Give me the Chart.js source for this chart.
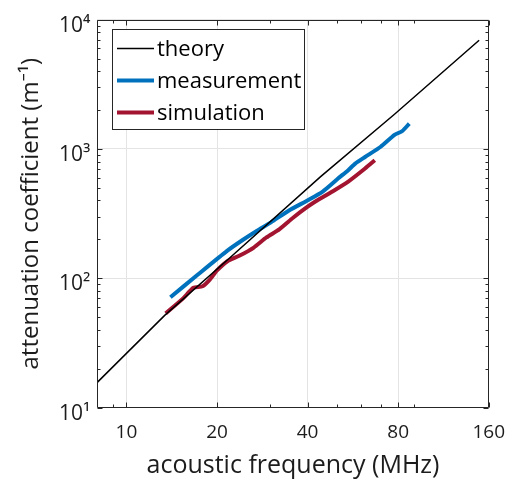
<!DOCTYPE html>
<html><head><meta charset="utf-8">
<script src="https://cdn.jsdelivr.net/npm/chart.js@4.4.0/dist/chart.umd.min.js"></script>
<style>html,body{margin:0;padding:0;background:#fff;} canvas{display:block;}</style>
</head><body>
<canvas id="c" width="518" height="484"></canvas>
<script>
// ---- data (frequency in MHz, attenuation in 1/m) ----
const theoryFreq = [8, 10, 13.4, 22.5, 44.2, 77.8, 148.7];
const theoryAtt  = [15.7, 26.3, 51.7, 150, 611, 1854, 6918];

const measFreq = [14.0, 17.2, 21.6, 24.2, 27.1, 30.3, 34.7, 40.4, 44.9, 50.6, 54.6, 57.6, 62.1, 70.0, 77.8, 82.6, 87.1];
const measAtt  = [71.5, 106, 163, 196, 232, 272, 335, 405, 468, 593, 686, 771, 867, 1040, 1283, 1377, 1570];

const simFreq = [13.5, 15.4, 16.7, 17.9, 18.9, 20.0, 21.6, 23.8, 26.5, 29.2, 32.2, 35.8, 39.5, 42.6, 48.4, 54.6, 62.1, 66.9];
const simAtt  = [53.6, 69.7, 84.5, 86.8, 97.2, 115, 135, 150, 173, 207, 239, 294, 350, 394, 469, 559, 706, 817];

const seriesLabels = ['theory', 'measurement', 'simulation'];
const xTicks = [10, 20, 40, 80, 160];
const yTicks = [10, 100, 1000, 10000];
const yTickLabels = ['10\u00B9', '10\u00B2', '10\u00B3', '10\u2074'];
const xMinorTicks = [9, 30, 50, 60, 70, 90];
const yMinorTicks = [20,30,40,50,60,70,80,90, 200,300,400,500,600,700,800,900, 2000,3000,4000,5000,6000,7000,8000,9000];
const xTitle = 'acoustic frequency (MHz)';
const yTitle = 'attenuation coefficient (m\u207B\u00B9)';

function pts(xs, ys) { return xs.map((x, i) => ({ x: x, y: ys[i] })); }

const FONT = "'Open Sans', 'Noto Sans', sans-serif";
const AX = '#262626';
const TXT = '#1c1c1c';

const framePlugin = {
  id: 'frame',
  afterDatasetsDraw(chart) {
    const { ctx, chartArea: a, scales: { x, y } } = chart;
    const L = Math.round(a.left) + 0.5, R = Math.round(a.right) - 0.5;
    const T = Math.round(a.top) + 0.5, B = Math.round(a.bottom) - 0.5;
    ctx.save();
    ctx.strokeStyle = AX; ctx.lineWidth = 1;
    ctx.beginPath();
    ctx.rect(L, T, R - L, B - T);
    const xt = (v, len) => {
      const p = Math.round(x.getPixelForValue(v)) + 0.5;
      ctx.moveTo(p, B); ctx.lineTo(p, B - len);
      ctx.moveTo(p, T); ctx.lineTo(p, T + len);
    };
    const yt = (v, len) => {
      const p = Math.round(y.getPixelForValue(v)) + 0.5;
      ctx.moveTo(L, p); ctx.lineTo(L + len, p);
      ctx.moveTo(R, p); ctx.lineTo(R - len, p);
    };
    xTicks.forEach(v => xt(v, 5));
    xMinorTicks.forEach(v => xt(v, 3));
    yTicks.forEach(v => yt(v, 5));
    yMinorTicks.forEach(v => yt(v, 3));
    ctx.stroke();
    ctx.restore();
  }
};

const legendPlugin = {
  id: 'boxLegend',
  afterDraw(chart) {
    const ctx = chart.ctx;
    const bx = 112.5, by = 29.5, bw = 192, bh = 100;
    ctx.save();
    ctx.fillStyle = '#fff';
    ctx.fillRect(bx, by, bw, bh);
    ctx.strokeStyle = AX; ctx.lineWidth = 1;
    ctx.strokeRect(bx, by, bw, bh);
    const rows = [48.5, 80.5, 112.5];
    chart.data.datasets.forEach((ds, i) => {
      const yy = rows[i];
      ctx.strokeStyle = ds.borderColor;
      ctx.lineWidth = ds.borderWidth;
      ctx.beginPath(); ctx.moveTo(117, yy); ctx.lineTo(154, yy); ctx.stroke();
      ctx.fillStyle = '#000';
      ctx.font = '22px ' + FONT;
      ctx.textBaseline = 'middle';
      ctx.textAlign = 'left';
      ctx.fillText(ds.label, 157, yy + 1);
    });
    ctx.restore();
  }
};

new Chart(document.getElementById('c'), {
  type: 'line',
  data: {
    datasets: [
      { label: seriesLabels[0], data: pts(theoryFreq, theoryAtt), borderColor: '#000000', borderWidth: 1.5, pointRadius: 0, tension: 0 },
      { label: seriesLabels[1], data: pts(measFreq, measAtt), borderColor: '#0072BD', borderWidth: 4, pointRadius: 0, tension: 0.2 },
      { label: seriesLabels[2], data: pts(simFreq, simAtt), borderColor: '#A2142F', borderWidth: 4, pointRadius: 0, tension: 0.2 }
    ]
  },
  options: {
    responsive: false,
    animation: false,
    events: [],
    layout: { padding: { top: 14, right: 23, left: 0, bottom: 0 } },
    plugins: { legend: { display: false }, tooltip: { enabled: false } },
    scales: {
      x: {
        type: 'logarithmic',
        min: 8, max: 160,
        afterBuildTicks: (ax) => { ax.ticks = xTicks.map(v => ({ value: v })); },
        afterFit: (ax) => { ax.height = 76.3; },
        ticks: {
          callback: (v) => String(v),
          font: { family: FONT, size: 19 }, color: TXT,
          padding: 13, maxRotation: 0, autoSkip: false
        },
        grid: { color: '#e4e4e4', lineWidth: 1, drawTicks: false },
        border: { display: false },
        title: { display: true, text: xTitle, font: { family: FONT, size: 25 }, color: TXT, padding: { top: 0, bottom: 3 } }
      },
      y: {
        type: 'logarithmic',
        min: 10, max: 10000,
        afterBuildTicks: (ax) => { ax.ticks = yTicks.map(v => ({ value: v })); },
        afterFit: (ax) => { ax.width = 97.3; },
        ticks: {
          callback: (v) => { const i = yTicks.indexOf(v); return i >= 0 ? yTickLabels[i] : ''; },
          font: { family: FONT, size: 21 }, color: TXT,
          padding: 7, labelOffset: 6, autoSkip: false
        },
        grid: { color: '#e4e4e4', lineWidth: 1, drawTicks: false },
        border: { display: false },
        title: { display: true, text: yTitle, font: { family: FONT, size: 24 }, color: TXT, padding: { top: 17, bottom: 0 } }
      }
    }
  },
  plugins: [framePlugin, legendPlugin]
});
</script>
</body></html>
